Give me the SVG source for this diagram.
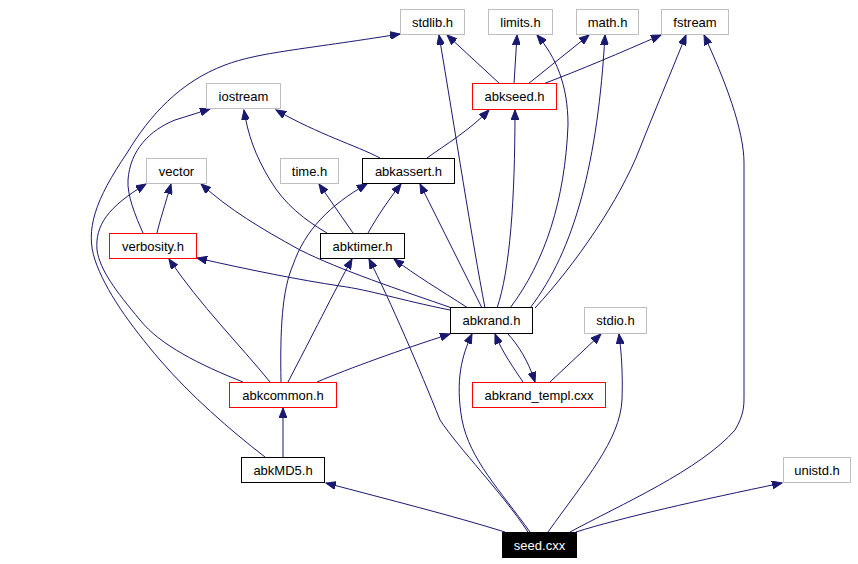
<svg xmlns="http://www.w3.org/2000/svg" width="858" height="564" viewBox="0 0 858 564">
<style>
.n rect{fill:#fff;stroke-width:1}
.g rect{stroke:#bfbfbf}
.r rect{stroke:#ff0000}
.b rect{stroke:#000}
text{font-family:"Liberation Sans",Arial,sans-serif;font-size:13px;text-anchor:middle;fill:#000}
#edges path{fill:none;stroke:#191970;stroke-width:1;marker-end:url(#ah)}
</style>
<defs>
<marker id="ah" markerUnits="userSpaceOnUse" markerWidth="11" markerHeight="8" refX="10" refY="4" orient="auto" viewBox="0 0 11 8">
<path d="M0,0 L10,4 L0,8 z" fill="#191970" stroke="#191970" stroke-width="1"/>
</marker>
</defs>
<rect width="858" height="564" fill="#fff"/>
<g id="edges">
<path d="M500,84 L447,35"/>
<path d="M514,84 L517,35"/>
<path d="M528,84 L589,35"/>
<path d="M543,84 C580,70 620,53 661,35"/>
<path d="M485,308 C472,240 455,130 439,35"/>
<path d="M482,308 L420,184"/>
<path d="M497,308 C510,270 515,200 515,110"/>
<path d="M510,308 C545,262 565,200 568,125 C568,85 556,57 537,35"/>
<path d="M530,308 C575,250 598,160 605,35"/>
<path d="M535,308 C575,265 620,200 640,148 C655,110 670,75 686,35"/>
<path d="M570,532 C620,505 700,470 735,430 C744,415 744,405 744,397 L744,163 C744,130 725,80 704,35"/>
<path d="M576,532 C620,518 700,500 782,483"/>
<path d="M505,532 C450,515 390,500 326,483"/>
<path d="M528,532 C500,490 460,450 440,420 C420,370 390,300 369,259"/>
<path d="M530,532 C500,490 470,460 462,420 C455,380 462,355 472,334"/>
<path d="M548,532 C585,480 620,440 622,400 C623,370 621,350 619,334"/>
<path d="M508,334 C518,345 528,360 535,382"/>
<path d="M523,382 C515,370 502,352 495,334"/>
<path d="M550,382 L601,334"/>
<path d="M317,382 C350,368 400,350 450,334"/>
<path d="M288,382 C310,340 335,290 352,259"/>
<path d="M281,382 C280,330 282,290 293,265 C305,230 330,205 367,184"/>
<path d="M270,382 C240,345 200,305 169,259"/>
<path d="M243,382 C200,365 160,345 140,320 C115,290 100,270 97,250 C95,225 108,207 146,184"/>
<path d="M265,457 C230,430 190,395 160,360 C130,325 105,290 95,260 C85,230 95,200 127,153 C150,115 180,82 225,65 C260,52 300,50 400,34"/>
<path d="M283,457 L283,408"/>
<path d="M143,233 C135,215 127,195 128,180 C130,150 150,130 175,120 L210,109"/>
<path d="M157,233 C160,220 165,205 171,184"/>
<path d="M327,233 C305,220 285,205 270,180 C255,155 248,135 244,110"/>
<path d="M353,233 L319,184"/>
<path d="M368,233 C378,215 390,198 401,184"/>
<path d="M380,158 C355,145 320,135 276,110"/>
<path d="M427,158 C445,145 470,130 489,110"/>
<path d="M452,308 C400,290 340,270 300,250 C260,228 230,210 201,184"/>
<path d="M450,310 C400,300 370,290 340,286 C300,280 250,270 197,258"/>
<path d="M468,308 C440,290 415,275 394,259"/>
</g>
<g id="n_stdlib" class="n g"><rect x="400.5" y="9.5" width="64" height="25"/><text x="432.5" y="27">stdlib.h</text></g>
<g id="n_limits" class="n g"><rect x="488.5" y="9.5" width="64" height="25"/><text x="520.5" y="27">limits.h</text></g>
<g id="n_math" class="n g"><rect x="576.5" y="9.5" width="62" height="25"/><text x="607.5" y="27">math.h</text></g>
<g id="n_fstream" class="n g"><rect x="661.5" y="9.5" width="67" height="25"/><text x="695" y="27">fstream</text></g>
<g id="n_abkseed" class="n r"><rect x="472.5" y="83.5" width="84" height="26"/><text x="514.5" y="101">abkseed.h</text></g>
<g id="n_iostream" class="n g"><rect x="206.5" y="83.5" width="74" height="25"/><text x="243.5" y="101">iostream</text></g>
<g id="n_vector" class="n g"><rect x="146.5" y="158.5" width="60" height="25"/><text x="176.5" y="176">vector</text></g>
<g id="n_time" class="n g"><rect x="280.5" y="158.5" width="58" height="25"/><text x="309.5" y="176">time.h</text></g>
<g id="n_abkassert" class="n b"><rect x="362.5" y="158.5" width="92" height="25"/><text x="408.5" y="176">abkassert.h</text></g>
<g id="n_verbosity" class="n r"><rect x="109.5" y="233.5" width="87" height="25"/><text x="153" y="251">verbosity.h</text></g>
<g id="n_abktimer" class="n b"><rect x="320.5" y="233.5" width="84" height="25"/><text x="362.5" y="251">abktimer.h</text></g>
<g id="n_abkrand" class="n b"><rect x="450.5" y="307.5" width="82" height="26"/><text x="491.5" y="325">abkrand.h</text></g>
<g id="n_stdio" class="n g"><rect x="584.5" y="307.5" width="62" height="26"/><text x="615.5" y="325">stdio.h</text></g>
<g id="n_abkcommon" class="n r"><rect x="229.5" y="382.5" width="107" height="25"/><text x="283" y="400">abkcommon.h</text></g>
<g id="n_abkrand_templ" class="n r"><rect x="472.5" y="382.5" width="133" height="25"/><text x="539" y="400">abkrand_templ.cxx</text></g>
<g id="n_abkMD5" class="n b"><rect x="241.5" y="457.5" width="83" height="25"/><text x="283" y="475">abkMD5.h</text></g>
<g id="n_unistd" class="n g"><rect x="783.5" y="457.5" width="67" height="25"/><text x="817" y="475">unistd.h</text></g>
<g id="n_seed"><rect x="502.5" y="532.5" width="74" height="25" fill="#000" stroke="#000"/><text x="539.5" y="550" style="fill:#fff">seed.cxx</text></g>
</svg>
